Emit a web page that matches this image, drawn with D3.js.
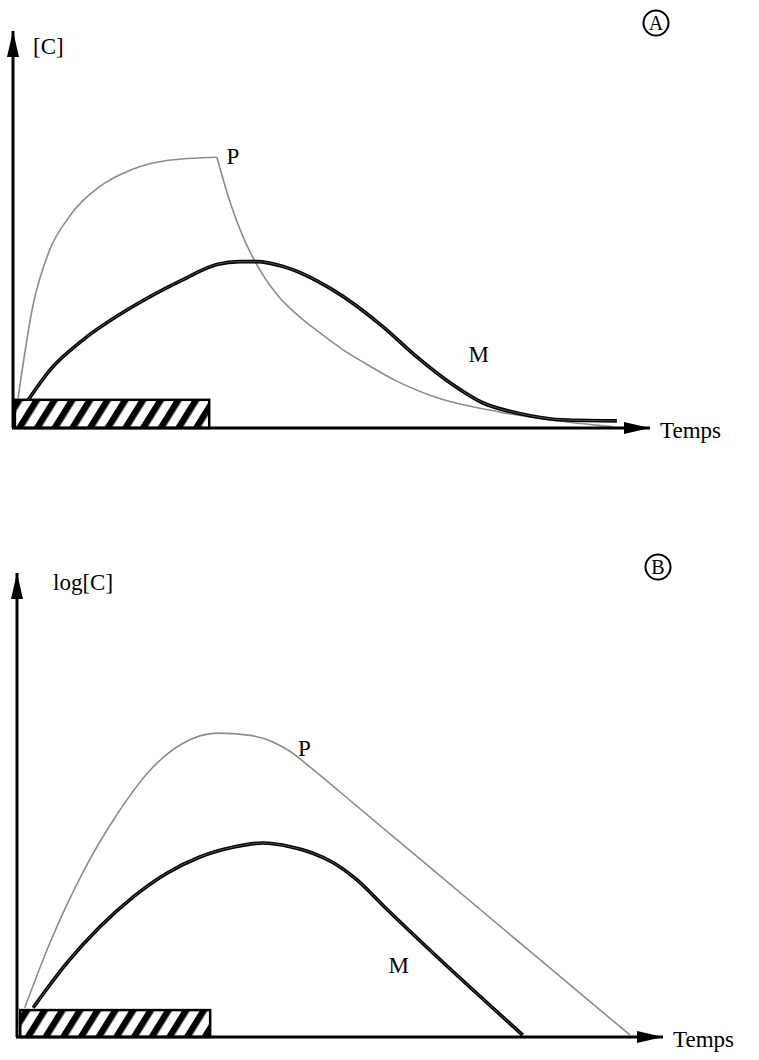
<!DOCTYPE html>
<html>
  <head>
    <meta charset="UTF-8">
    <title>Cinétique P / M</title>
    <style>
      body {margin: 0; background-color: #fff;}
      #chart svg {display: block;}
      .lbl {font-family: "Liberation Serif", serif; font-size: 23px; fill: #000;}
    </style>
  </head>
  <body>
    <div id="chart"></div>
    <script src="https://d3js.org/d3.v7.min.js"></script>
    <script>

// panel A : linear concentration, time 0..100 (arbitrary units)
const tA_P = [0.8, 3.1, 5.8, 8.5, 13.7, 18.8, 24.2, 32.0, 34.1, 36.1, 38.0, 41.5, 45, 48, 52, 55.6, 60, 65.9, 76.5, 87.0, 94.2];
const cA_P = [7.6, 30.6, 45, 52.5, 60.9, 65.2, 67.4, 68.2, 56.8, 48.2, 41.9, 33.5, 28.0, 24.2, 19.5, 16.0, 12.0, 8.0, 4.0, 1.5, 0.3];
const tA_M = [2.4, 5.8, 11.0, 18.8, 26.7, 32.0, 35.6, 38.3, 42.4, 50.2, 58.1, 63.4, 68.6, 73.8, 79.1, 87.0, 94.8];
const cA_M = [7.1, 14.6, 22.2, 30.6, 37.4, 41.2, 41.9, 41.9, 40.7, 34.8, 25.5, 17.9, 11.4, 6.3, 3.8, 2.0, 1.8];

// panel B : log concentration
const tB_P = [1.2, 5.1, 10.2, 15.5, 20.6, 25.7, 31.0, 36.1, 39.6, 42, 45, 50, 64.4, 79.9, 94.9];
const cB_P = [6.3, 20.3, 35.5, 48.0, 57.5, 63.3, 65.5, 65.0, 63.6, 61.8, 58.6, 52.8, 36.0, 17.9, 0.4];
const tB_M = [2.5, 7.7, 12.8, 18.0, 23.2, 28.3, 33.4, 38.1, 42.3, 45.8, 48.9, 52.5, 56.7, 64.4, 78.3];
const cB_M = [6.3, 15.9, 23.7, 30.2, 35.3, 38.8, 40.9, 41.8, 41.0, 39.6, 37.6, 34.0, 28.3, 18.1, 0.4];

// infusion period (hatched bar) : [start, end, height]
const infusionA = [0.3, 30.8, 7.1];
const infusionB = [0.5, 29.9, 5.8];

const width = 759, height = 1060;

const svg = d3.select("#chart").append("svg")
  .attr("width", width)
  .attr("height", height);

const defs = svg.append("defs");
defs.append("marker")
  .attr("id", "arrow")
  .attr("viewBox", "0 0 26 12")
  .attr("refX", 26).attr("refY", 6)
  .attr("markerWidth", 26).attr("markerHeight", 12)
  .attr("markerUnits", "userSpaceOnUse")
  .attr("orient", "auto")
  .append("path").attr("d", "M0,0 L26,6 L0,12 Z").attr("fill", "#000");

const hatch = defs.append("pattern")
  .attr("id", "hatch")
  .attr("patternUnits", "userSpaceOnUse")
  .attr("width", 15).attr("height", 15)
  .attr("patternTransform", "rotate(32)");
hatch.append("rect").attr("width", 15).attr("height", 15).attr("fill", "#fff");
hatch.append("rect").attr("x", 0).attr("width", 6.5).attr("height", 15).attr("fill", "#000");

const zip = (ts, cs) => ts.map((t, i) => ({t: t, c: cs[i]}));

function panel(cfg) {
  const x = d3.scaleLinear().domain([0, 100]).range([cfg.x0, cfg.x1]);
  const y = d3.scaleLinear().domain([0, 100]).range([cfg.y0, cfg.y1]);
  const g = svg.append("g");

  const line = d3.line().x(d => x(d.t)).y(d => y(d.c)).curve(d3.curveMonotoneX);

  // hatched bar
  const inf = cfg.infusion;
  g.append("rect")
    .attr("x", x(inf[0])).attr("y", y(inf[2]))
    .attr("width", x(inf[1]) - x(inf[0]))
    .attr("height", y(0) - y(inf[2]))
    .attr("fill", "url(#hatch)")
    .attr("stroke", "#000").attr("stroke-width", 2.5);

  // P : split at the corner if needed
  cfg.pParts.forEach(part => {
    g.append("path").datum(part)
      .attr("d", line)
      .attr("fill", "none")
      .attr("stroke", "#8c8c8c")
      .attr("stroke-width", 1.6);
  });

  // M : thick black
  g.append("path").datum(cfg.m)
    .attr("d", line)
    .attr("fill", "none")
    .attr("stroke", "#000")
    .attr("stroke-width", 3.6);
  g.append("path").datum(cfg.m)
    .attr("d", line)
    .attr("fill", "none")
    .attr("stroke", "#666")
    .attr("stroke-width", 0.8);

  // axes
  g.append("line")
    .attr("x1", x(0)).attr("y1", y(0))
    .attr("x2", x(0)).attr("y2", cfg.y1)
    .attr("stroke", "#000").attr("stroke-width", 3)
    .attr("marker-end", "url(#arrow)");
  g.append("line")
    .attr("x1", x(0) - 1).attr("y1", y(0))
    .attr("x2", cfg.x1).attr("y2", y(0))
    .attr("stroke", "#000").attr("stroke-width", 3)
    .attr("marker-end", "url(#arrow)");

  g.append("text").attr("class", "lbl")
    .attr("x", cfg.yLabelPos[0]).attr("y", cfg.yLabelPos[1])
    .text(cfg.yLabel);
  g.append("text").attr("class", "lbl")
    .attr("x", cfg.x1 + 10).attr("y", y(0) + 10)
    .text("Temps");

  cfg.curveLabels.forEach(l => {
    g.append("text").attr("class", "lbl")
      .attr("x", x(l.t)).attr("y", y(l.c))
      .text(l.name);
  });

  // circled panel letter
  g.append("circle")
    .attr("cx", cfg.tag[0]).attr("cy", cfg.tag[1]).attr("r", 12.5)
    .attr("fill", "none").attr("stroke", "#000").attr("stroke-width", 2);
  g.append("text").attr("class", "lbl")
    .attr("x", cfg.tag[0]).attr("y", cfg.tag[1] + 7)
    .attr("text-anchor", "middle")
    .style("font-size", "20px")
    .text(cfg.tagText);
}

const pA = zip(tA_P, cA_P);
const cornerA = d3.maxIndex(pA, d => d.c);

panel({
  x0: 13, x1: 650, y0: 428, y1: 31,
  infusion: infusionA,
  pParts: [pA.slice(0, cornerA + 1), pA.slice(cornerA)],
  m: zip(tA_M, cA_M),
  yLabel: "[C]", yLabelPos: [33, 54],
  curveLabels: [{name: "P", t: 33.5, c: 66.5}, {name: "M", t: 71.5, c: 16.5}],
  tag: [656, 23], tagText: "A"
});

panel({
  x0: 17, x1: 663, y0: 1037, y1: 573,
  infusion: infusionB,
  pParts: [zip(tB_P, cB_P)],
  m: zip(tB_M, cB_M),
  yLabel: "log[C]", yLabelPos: [53, 590],
  curveLabels: [{name: "P", t: 43.5, c: 60.5}, {name: "M", t: 57.5, c: 13.9}],
  tag: [658, 567], tagText: "B"
});

 </script>
  </body>
</html>
